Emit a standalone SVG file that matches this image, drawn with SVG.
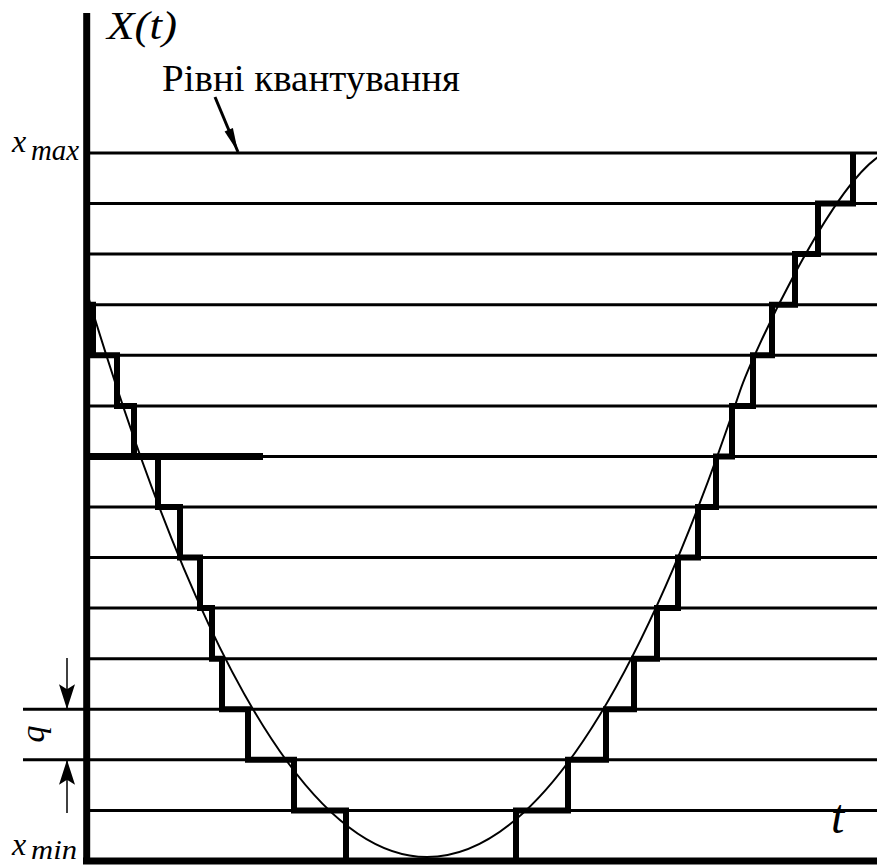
<svg xmlns="http://www.w3.org/2000/svg" width="877" height="867" viewBox="0 0 877 867">
<style>
.axis{stroke:#000;stroke-width:7;fill:none}
.level{stroke:#000;stroke-width:3;fill:none}
.stair{stroke:#000;stroke-width:6;fill:none;stroke-linejoin:miter;stroke-linecap:square}
.curve{stroke:#000;stroke-width:2;fill:none}
.lbl{font-family:"Liberation Serif","Times New Roman","DejaVu Serif",serif;fill:#000}
.it{font-style:italic}
.dim{stroke:#000;stroke-width:1.5;fill:none}
.ptr{stroke:#000;stroke-width:3;fill:none}
</style>
<defs>
<marker id="dimArrow" markerUnits="userSpaceOnUse" viewBox="-26 -9 27 18" markerWidth="27" markerHeight="18" refX="0" refY="0" orient="auto">
<path d="M0,0 L-25,-8 L-20,0 L-25,8 Z" fill="#000"/>
</marker>
<marker id="ptrArrow" markerUnits="userSpaceOnUse" viewBox="-25 -5 26 10" markerWidth="26" markerHeight="10" refX="0" refY="0" orient="auto">
<path d="M0,0 L-24,-4.5 L-24,4.5 Z" fill="#000"/>
</marker>
</defs>
<rect x="0" y="0" width="877" height="867" fill="#fff"/>
<g id="levels">
<line class="level" x1="87" y1="153" x2="877" y2="153"/>
<line class="level" x1="87" y1="203.6" x2="877" y2="203.6"/>
<line class="level" x1="87" y1="254.1" x2="877" y2="254.1"/>
<line class="level" x1="87" y1="304.7" x2="877" y2="304.7"/>
<line class="level" x1="87" y1="355.3" x2="877" y2="355.3"/>
<line class="level" x1="87" y1="405.9" x2="877" y2="405.9"/>
<line class="level" x1="87" y1="456.4" x2="877" y2="456.4"/>
<line class="level" x1="87" y1="507" x2="877" y2="507"/>
<line class="level" x1="87" y1="557.6" x2="877" y2="557.6"/>
<line class="level" x1="87" y1="608.1" x2="877" y2="608.1"/>
<line class="level" x1="87" y1="658.7" x2="877" y2="658.7"/>
<line class="level" x1="23" y1="709.3" x2="877" y2="709.3"/>
<line class="level" x1="23" y1="759.8" x2="877" y2="759.8"/>
<line class="level" x1="87" y1="810.4" x2="877" y2="810.4"/>
<line x1="87" y1="456.4" x2="263" y2="456.4" stroke="#000" stroke-width="7"/>
</g>
<g id="signal">
<path class="curve" d="M89,299.5 Q258,857 427,857 Q583.5,857 740,391 C752,355.3 828,192 878,157"/>
</g>
<g id="quantized">
<path class="stair" d="M93,304.7 V355.3 H117 V405.9 H134 V456.4 H158 V507 H180 V557.6 H200 V608.1 H212 V658.7 H222 V709.3 H248 V759.8 H294 V810.4 H346 V861 H516 V810.4 H568 V759.8 H606 V709.3 H634 V658.7 H657 V608.1 H678 V557.6 H698 V507 H716 V456.4 H732 V405.9 H753 V355.3 H772 V304.7 H795 V254.1 H818 V203.6 H853 V157"/>
</g>
<g id="axes">
<line class="axis" x1="86.7" y1="13" x2="86.7" y2="864"/>
<line class="axis" x1="83" y1="861" x2="877" y2="861"/>
</g>
<g id="connectors">
<path class="ptr" d="M215,97 L238,152" marker-end="url(#ptrArrow)"/>
<line class="dim" x1="67" y1="658" x2="67" y2="709.3" marker-end="url(#dimArrow)"/>
<line class="dim" x1="67" y1="813" x2="67" y2="759.8" marker-end="url(#dimArrow)"/>
</g>
<g id="labels">
<text class="lbl it" x="107" y="39" font-size="40" textLength="70" lengthAdjust="spacingAndGlyphs">X(t)</text>
<text class="lbl" x="162" y="91" font-size="38" textLength="298" lengthAdjust="spacingAndGlyphs">Рівні квантування</text>
<text class="lbl it" x="12" y="152" font-size="32">x</text>
<text class="lbl it" x="31" y="160" font-size="30" textLength="48" lengthAdjust="spacingAndGlyphs">max</text>
<text class="lbl it" x="12" y="855" font-size="32">x</text>
<text class="lbl it" x="31" y="859" font-size="27" textLength="46" lengthAdjust="spacingAndGlyphs">min</text>
<text class="lbl it" x="831" y="833" font-size="48">t</text>
<text class="lbl it" transform="translate(44,734) rotate(-90)" text-anchor="middle" font-size="34">q</text>
</g>
</svg>
